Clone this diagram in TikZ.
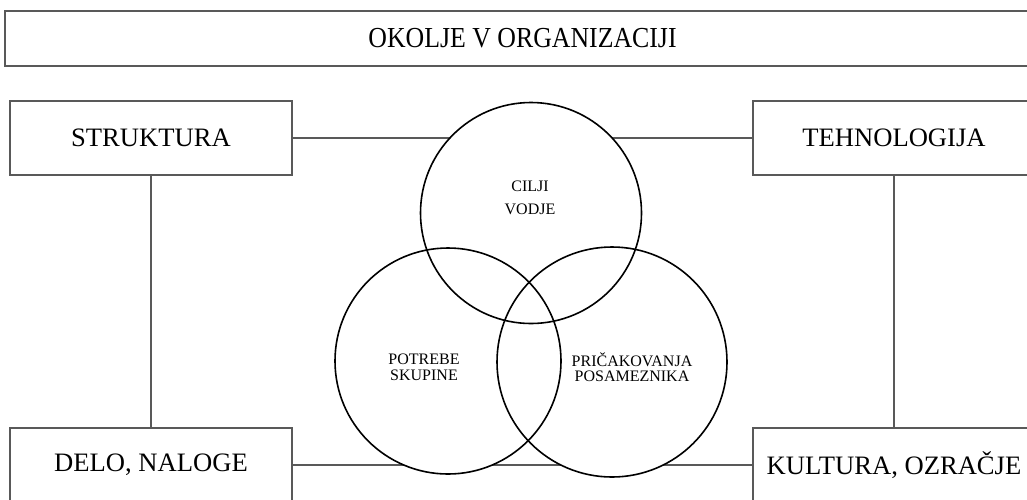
\documentclass[tikz,border=0pt]{standalone}
\usepackage{fontspec}
\setmainfont{Liberation Serif}
\usepackage{tikz}
\usetikzlibrary{positioning,backgrounds}

\tikzset{
  okvir/.style={draw=black!65, line width=0.8pt, rectangle, minimum width=141pt, minimum height=37pt, inner sep=0pt, font=\fontsize{13.3}{16}\selectfont},
  krog/.style={draw=black, line width=0.8pt, circle, inner sep=0pt},
  povezava/.style={draw=black!65, line width=0.8pt},
  napis/.style={align=center, font=\fontsize{8}{7.8}\selectfont}
}

\begin{document}
\begin{tikzpicture}[x=0.5pt,y=-0.5pt]
    \useasboundingbox (0,0) rectangle (1027,499);

    % Okolje
    \node[okvir, minimum width=517.5pt, minimum height=27.5pt, font=\fontsize{14.5}{17}\selectfont] (okolje) at (522.5,38.5) {\scalebox{0.89}[1]{OKOLJE V ORGANIZACIJI}};

    % Corner boxes
    \node[okvir] (struktura) at (151,138) {STRUKTURA};
    \node[okvir] (tehnologija) at (894,138) {TEHNOLOGIJA};
    \node[okvir] (delo) at (151,465) {DELO, NALOGE};
    \node[okvir] (kultura) at (894,465) {KULTURA, OZRAČJE};

    % Circles
    \node[krog, minimum size=110.5pt] (vodja) at (531,213) {};
    \node[krog, minimum size=113pt] (skupina) at (448,361) {};
    \node[krog, minimum size=115pt] (posameznik) at (612,362) {};

    % Texts in circles
    \node[napis, font=\fontsize{8}{11.5}\selectfont] (cilji) at (530,198) {CILJI\\VODJE};
    \node[napis] (potrebe) at (424,367) {POTREBE\\SKUPINE};
    \node[napis] (pricakovanja) at (632,367) {PRIČAKOVANJA\\POSAMEZNIKA};

    % Lines (behind the circles)
    \begin{scope}[on background layer]
        \draw[povezava] (struktura) -- (tehnologija);
        \draw[povezava] (delo) -- (kultura);
        \draw[povezava] (struktura) -- (delo);
        \draw[povezava] (tehnologija) -- (kultura);
        \fill[white] (vodja.center) circle[radius=55pt];
        \fill[white] (skupina.center) circle[radius=56.5pt];
        \fill[white] (posameznik.center) circle[radius=57.5pt];
    \end{scope}
\end{tikzpicture}
\end{document}
